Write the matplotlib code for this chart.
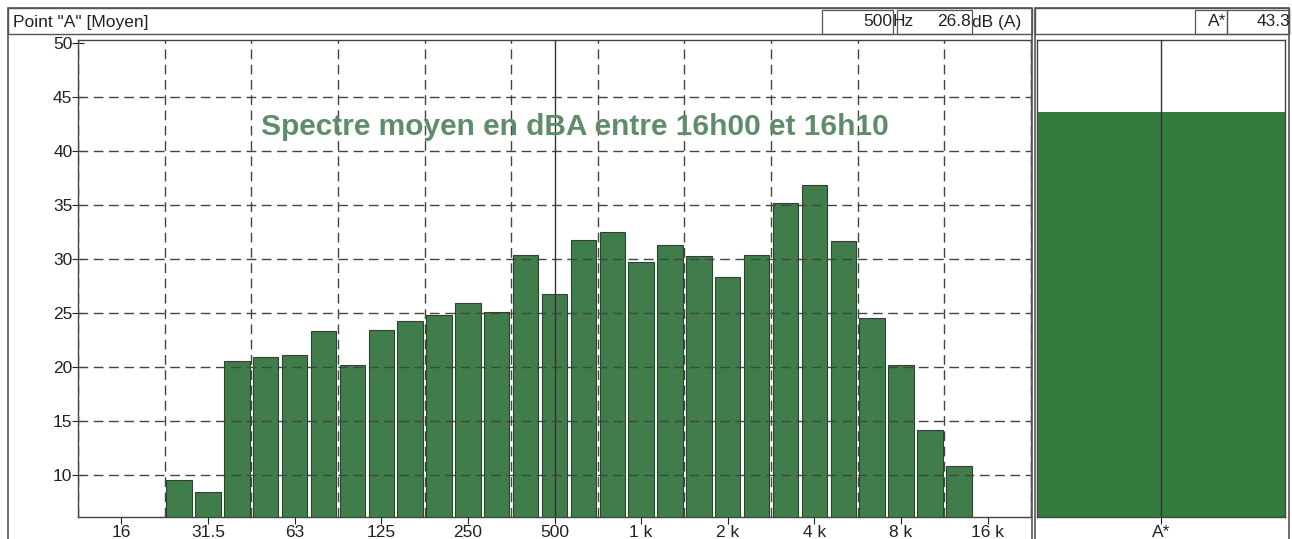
import numpy as np
import matplotlib
matplotlib.use("Agg")
import matplotlib.pyplot as plt
from matplotlib.patches import Rectangle

# third-octave bands shown on the axis (12.5 Hz .. 20 kHz)
bands = ['12.5', '16', '20', '25', '31.5', '40', '50', '63', '80', '100', '125', '160',
         '200', '250', '315', '400', '500', '630', '800', '1 k', '1.25 k', '1.6 k', '2 k',
         '2.5 k', '3.15 k', '4 k', '5 k', '6.3 k', '8 k', '10 k', '12.5 k', '16 k', '20 k']
levels = [np.nan, np.nan, np.nan, 9.5, 8.4, 20.6, 20.9, 21.1, 23.3, 20.2, 23.4, 24.3,
          24.8, 25.9, 25.1, 30.4, 26.8, 31.8, 32.5, 29.7, 31.3, 30.3, 28.3,
          30.4, 35.2, 36.9, 31.7, 24.5, 20.2, 14.2, 10.8, np.nan, np.nan]
octave_labels = ['16', '31.5', '63', '125', '250', '500', '1 k', '2 k', '4 k', '8 k', '16 k']
y_ticks = [10, 15, 20, 25, 30, 35, 40, 45, 50]
cursor_band = '500'
total_label = 'A*'
total_level = 43.3
title = "Spectre moyen en dBA entre 16h00 et 16h10"
point_name = 'Point "A" [Moyen]'

plt.rcParams['font.family'] = ['Liberation Sans', 'DejaVu Sans']
W, H = 1292, 539
fig = plt.figure(figsize=(W / 100, H / 100), dpi=100)


def fbox(x0, y0, x1, y1, lw=1.0, color='#555555'):
    # rectangle in pixel coords (y from top)
    r = Rectangle((x0 / W, 1 - y1 / H), (x1 - x0) / W, (y1 - y0) / H,
                  transform=fig.transFigure, fill=False, lw=lw, edgecolor=color)
    fig.patches.append(r)


def ftext(x, y, s, **kw):
    fig.text(x / W, 1 - y / H, s, va='center', **kw)


# panel frames and header rows
fbox(8, 8, 1032, 545, lw=1.2)
fbox(8, 8, 1032, 34, lw=1.0)
fbox(1035, 8, 1289, 545, lw=1.2)
fbox(1035, 8, 1289, 34, lw=1.0)

hdr = dict(fontsize=12.5, color='#222222')
cursor_idx = bands.index(cursor_band)
ftext(13, 22, point_name, **hdr)
fbox(822, 10, 893, 34, lw=0.9)
ftext(892, 22, cursor_band, ha='right', **hdr)
ftext(893, 22, 'Hz', **hdr)
fbox(897, 10, 972, 34, lw=0.9)
ftext(971, 22, f"{levels[cursor_idx]:.1f}", ha='right', **hdr)
ftext(972, 22, 'dB (A)', **hdr)
fbox(1195, 10, 1227, 34, lw=0.9)
ftext(1226, 22, total_label, ha='right', **hdr)
fbox(1227, 10, 1289, 34, lw=0.9)
ftext(1290, 22, f"{total_level:.1f}", ha='right', **hdr)

ymin, ymax = 6.1, 50.3
bar_color = '#417c4b'
edge_color = '#26462d'
grid_kw = dict(color='#444444', lw=1.0, ls=(0, (7, 4)))

# main spectrum
ax = fig.add_axes([78 / W, 1 - 517 / H, 953 / W, 477 / H])
x = np.arange(len(bands))
ax.bar(x, levels, width=0.88, bottom=0, color=bar_color, edgecolor=edge_color, lw=0.8, zorder=2)
ax.set_xlim(-0.5, len(bands) - 0.5)
ax.set_ylim(ymin, ymax)
for gx in np.arange(-0.5, len(bands), 3):
    ax.axvline(gx, zorder=3, **grid_kw)
for gy in y_ticks[:-1]:
    ax.axhline(gy, zorder=3, **grid_kw)
ax.axvline(cursor_idx, color='#333333', lw=1.0, zorder=4)
ax.set_xticks([bands.index(b) for b in octave_labels])
ax.set_xticklabels(octave_labels)
ax.set_yticks(y_ticks)
ax.tick_params(axis='x', direction='out', length=5, labelsize=12.5, colors='#222222', pad=1)
ax.tick_params(axis='y', direction='inout', length=8, labelsize=12.5, colors='#222222', pad=0)
for s in ax.spines.values():
    s.set_color('#444444')
    s.set_linewidth(1.0)
ax.text(0.5215, 0.818, title, transform=ax.transAxes, ha='center', va='center',
        fontsize=21.5, fontweight='bold', color='#5f8c6a', zorder=5)

# overall level panel
ax2 = fig.add_axes([1037 / W, 1 - 517 / H, 248 / W, 477 / H])
ax2.bar([0], [total_level], width=1.0, color='#347b40', edgecolor='none', zorder=2)
ax2.axvline(0, color='#333333', lw=1.0, zorder=3)
ax2.set_xlim(-0.5, 0.5)
ax2.set_ylim(6.25, 49.9)
ax2.set_xticks([0])
ax2.set_xticklabels([total_label])
ax2.set_yticks([])
ax2.tick_params(axis='x', direction='out', length=5, labelsize=12.5, colors='#222222', pad=1)
for s in ax2.spines.values():
    s.set_color('#444444')
    s.set_linewidth(1.0)

fig.savefig('out.png', dpi=100)
